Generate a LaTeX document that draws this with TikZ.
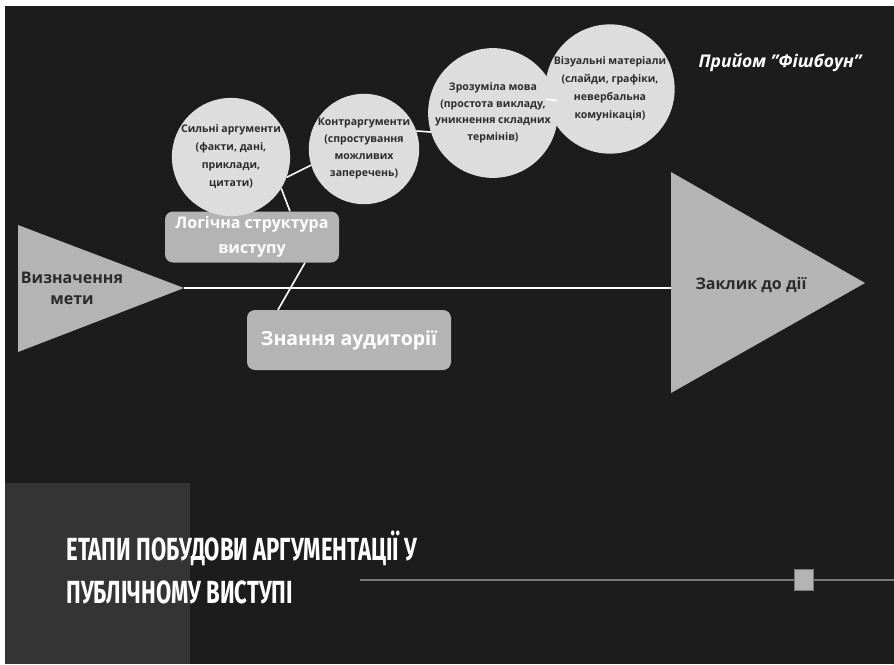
\documentclass[tikz,border=0pt]{standalone}
\usepackage{fontspec}
\setmainfont{Open Sans}
\newfontfamily\condfont[FakeStretch=0.69]{Fira Sans}
\usetikzlibrary{positioning}

\definecolor{bgdark}{HTML}{1C1C1C}
\definecolor{bgpanel}{HTML}{343434}
\definecolor{shapegrey}{HTML}{B4B4B4}
\definecolor{circlegrey}{HTML}{DDDDDD}
\definecolor{inkdark}{HTML}{2B2B2B}
\definecolor{railgrey}{HTML}{7A7A7A}

\tikzset{
  bone/.style={draw=white, line width=1.6pt},
  idea/.style={circle, fill=circlegrey, minimum size=108pt, inner sep=0pt, align=center,
    text=inkdark, font=\bfseries\fontsize{10.5}{18}\selectfont},
  branch/.style={rounded corners=8pt, fill=shapegrey, text=white, align=center},
  endlabel/.style={text=inkdark, align=center, font=\bfseries\fontsize{16}{21}\selectfont},
  heading/.style={anchor=west, text=white, font=\condfont\bfseries\fontsize{32}{34}\selectfont},
}

\begin{document}
\begin{tikzpicture}[x=1pt,y=-1pt]
\useasboundingbox (0,0) rectangle (894,664);
\fill[white] (0,0) rectangle (894,664);
\fill[bgdark] (5,6) rectangle (894,664);
\fill[bgpanel] (5,483) rectangle (190,664);

% head and tail of the fish
\fill[shapegrey] (18,225) -- (184,288) -- (18,352) -- cycle;
\fill[shapegrey] (671,172) -- (865,283) -- (671,393) -- cycle;
\coordinate (goaltip) at (184,288);
\coordinate (callin) at (671,288);
\draw[bone] (goaltip) -- (callin);

\node[endlabel] (goal) at (72,288) {Визначення\\мети};
\node[endlabel] (call) at (751,285) {Заклик до дії};

\node[branch, minimum width=174pt, minimum height=51pt,
  font=\bfseries\fontsize{16}{25}\selectfont] (logic) at (252,237) {Логічна структура\\виступу};
\node[branch, minimum width=204pt, minimum height=60pt,
  font=\bfseries\fontsize{19.5}{23}\selectfont] (audience) at (349,340) {Знання аудиторії};

\node[idea] (strong) at (231,157) {Сильні аргументи\\(факти, дані,\\приклади,\\цитати)};
\node[idea, font=\bfseries\fontsize{10.5}{17}\selectfont] (counter) at (364,149) {Контраргументи\\(спростування\\можливих\\заперечень)};
\node[idea, minimum size=116pt, font=\bfseries\fontsize{10.5}{16.5}\selectfont] (plain) at (493,113) {Зрозуміла мова\\(простота викладу,\\уникнення складних\\термінів)};
\node[idea, minimum size=116pt] (visual) at (610,89) {Візуальні матеріали\\(слайди, графіки,\\невербальна\\комунікація)};

\draw[bone] (strong.-32) -- ([xshift=38pt]logic.north);
\draw[bone] ([xshift=53pt]logic.south) -- ([xshift=-71pt]audience.north);
\draw[bone] (strong.-20) -- (counter.197);
\draw[bone] (counter.19) -- (plain.197);
\draw[bone] (plain.11) -- (visual.189);

\node[text=white, font=\bfseries\itshape\fontsize{17.5}{20}\selectfont] (method) at (780,63) {Прийом "Фішбоун"};

\node[heading] (heading1) at (63,548) {ЕТАПИ ПОБУДОВИ АРГУМЕНТАЦІЇ У};
\node[heading] (heading2) at (63,592) {ПУБЛІЧНОМУ ВИСТУПІ};

\coordinate (railstart) at (360,580);
\coordinate (railend) at (894,580);
\draw[railgrey, line width=2.5pt] (railstart) -- (railend);
\node[fill=shapegrey, draw=railgrey, minimum width=19pt, minimum height=21pt, inner sep=0pt] (knob) at (804,580) {};
\end{tikzpicture}
\end{document}
